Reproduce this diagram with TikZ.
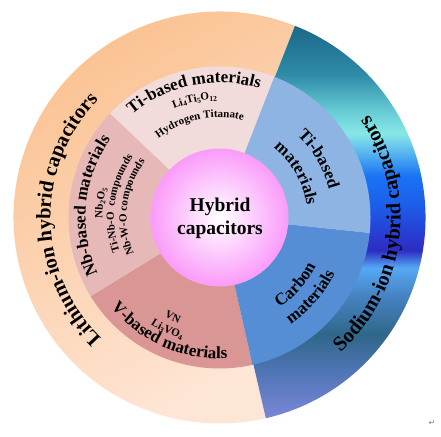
\documentclass[tikz,border=0pt]{standalone}
\usepackage{fontspec}
\setmainfont{Liberation Serif}
\newfontfamily\symfont{DejaVu Sans}
\usetikzlibrary{decorations.text}
\definecolor{lipeach}{HTML}{FABF8C}
\definecolor{lipale}{HTML}{FEE6D6}
\definecolor{litint}{HTML}{F2DCDB}
\definecolor{nbtint}{HTML}{E6B9B8}
\definecolor{vtint}{HTML}{D99694}
\definecolor{natint}{HTML}{8EB4E3}
\definecolor{carbtint}{HTML}{558ED5}
\definecolor{hubpink}{HTML}{FA9BFA}
\definecolor{nastopa}{HTML}{7A8BDA}
\definecolor{nastopb}{HTML}{7384D2}
\definecolor{nastopc}{HTML}{4E74B4}
\definecolor{nastopd}{HTML}{2F6789}
\definecolor{nastope}{HTML}{4684C4}
\definecolor{nastopf}{HTML}{56A8F4}
\definecolor{nastopg}{HTML}{2C2CC2}
\definecolor{nastoph}{HTML}{2A36CC}
\definecolor{nastopi}{HTML}{1C5EEA}
\definecolor{nastopj}{HTML}{1A74F4}
\definecolor{nastopk}{HTML}{5AB8EE}
\definecolor{nastopl}{HTML}{88E8E6}
\definecolor{nastopm}{HTML}{68CCD6}
\definecolor{nastopn}{HTML}{2E8CA8}
\definecolor{nastopo}{HTML}{1C6B8B}
\definecolor{nastopp}{HTML}{1A6585}
\pgfdeclareverticalshading{naring}{100bp}{color(0bp)=(nastopa); color(25bp)=(nastopa); color(28bp)=(nastopb); color(32.6bp)=(nastopc); color(36.6bp)=(nastopd); color(41.2bp)=(nastope); color(44.3bp)=(nastopf); color(46.3bp)=(nastopg); color(47.5bp)=(nastoph); color(51.5bp)=(nastopi); color(54.9bp)=(nastopj); color(57.6bp)=(nastopk); color(59.7bp)=(nastopl); color(62.2bp)=(nastopm); color(66.4bp)=(nastopn); color(71.6bp)=(nastopo); color(75bp)=(nastopp); color(100bp)=(nastopp)}
\newcommand\ringfont{\bfseries\fontsize{20.5}{21}\selectfont}
\newcommand\bigfont{\bfseries\fontsize{17}{17}\selectfont}
\newcommand\smallfont{\bfseries\fontsize{11}{11}\selectfont}
\newcommand\lowidx[1]{\raisebox{-2pt}{\fontsize{7.5}{7.5}\selectfont#1}}

\begin{document}
\begin{tikzpicture}[x=1pt,y=1pt,
  arcword/.style={decorate, decoration={text along path, text align=center, text={#1}}},
  hubtext/.style={align=center, font=\bfseries\fontsize{19.5}{23}\selectfont},
  every path/.style={draw=none}]
\useasboundingbox (-219.5,-218.5) rectangle (221.5,217.5);
\shade[top color=lipeach, bottom color=lipale, shading angle=30] (0,0) -- (68.5:206) arc[start angle=68.5, end angle=283, radius=206] -- cycle;
\begin{scope}
\clip (0,0) -- (-77:206) arc[start angle=-77, end angle=68.5, radius=206] -- cycle;
\shade[shading=naring] (-219.5,-218.5) rectangle (221.5,217.5);
\end{scope}
\fill[litint] (0,0) -- (68.7:151) arc[start angle=68.7, end angle=136.5, radius=151] -- cycle;
\fill[nbtint] (0,0) -- (136.5:151) arc[start angle=136.5, end angle=211.5, radius=151] -- cycle;
\fill[vtint] (0,0) -- (211.5:151) arc[start angle=211.5, end angle=282.6, radius=151] -- cycle;
\fill[carbtint] (0,0) -- (-77.4:151) arc[start angle=-77.4, end angle=-6, radius=151] -- cycle;
\fill[natint] (0,0) -- (-6:151) arc[start angle=-6, end angle=68.7, radius=151] -- cycle;
\shade[inner color=white, outer color=hubpink] (0,0) circle[radius=69];
\node[hubtext] (hub) at (0.5,-1) {Hybrid\\capacitors};
\path[arcword={|\ringfont|Lithium-ion hybrid capacitors}] (260.7:169) arc[start angle=260.7, end angle=100.7, radius=169];
\path[arcword={|\ringfont|Sodium-ion hybrid capacitors}] (-86.7:181) arc[start angle=-86.7, end angle=73.3, radius=181];
\path[arcword={|\bigfont|Ti-based materials}] (171.5:135) arc[start angle=171.5, end angle=31.5, radius=135];
\path[arcword={|\smallfont|Li{\lowidx{4}}Ti{\lowidx{5}}O{\lowidx{12}}}] (172:118) arc[start angle=172, end angle=32, radius=118];
\path[arcword={|\smallfont|Hydrogen Titanate}] (172:100) arc[start angle=172, end angle=32, radius=100];
\path[arcword={|\bigfont|Nb-based materials}] (244.5:134) arc[start angle=244.5, end angle=104.5, radius=134];
\path[arcword={|\smallfont|Nb{\lowidx{2}}O{\lowidx{5}}}] (243:117) arc[start angle=243, end angle=103, radius=117];
\path[arcword={|\smallfont|Ti-Nb-O{\ \ }compounds}] (242:105.5) arc[start angle=242, end angle=102, radius=105.5];
\path[arcword={|\smallfont|Nb-W-O compounds}] (243:93) arc[start angle=243, end angle=103, radius=93];
\path[arcword={|\bigfont|V-based materials}] (176.5:141) arc[start angle=176.5, end angle=316.5, radius=141];
\path[arcword={|\smallfont|Li{\lowidx{3}}VO{\lowidx{4}}}] (175:127) arc[start angle=175, end angle=315, radius=127];
\path[arcword={|\smallfont|VN}] (175:113.5) arc[start angle=175, end angle=315, radius=113.5];
\path[arcword={|\bigfont|Ti-based}] (100.5:113) arc[start angle=100.5, end angle=-39.5, radius=113];
\path[arcword={|\bigfont|materials}] (100:88) arc[start angle=100, end angle=-40, radius=88];
\path[arcword={|\bigfont|Carbon}] (-111.5:108) arc[start angle=-111.5, end angle=28.5, radius=108];
\path[arcword={|\bigfont|materials}] (-111:128) arc[start angle=-111, end angle=29, radius=128];
\node[font=\symfont\fontsize{8}{8}\selectfont, text=gray] (mark) at (212.5,-205.5) {↵};
\end{tikzpicture}
\end{document}
